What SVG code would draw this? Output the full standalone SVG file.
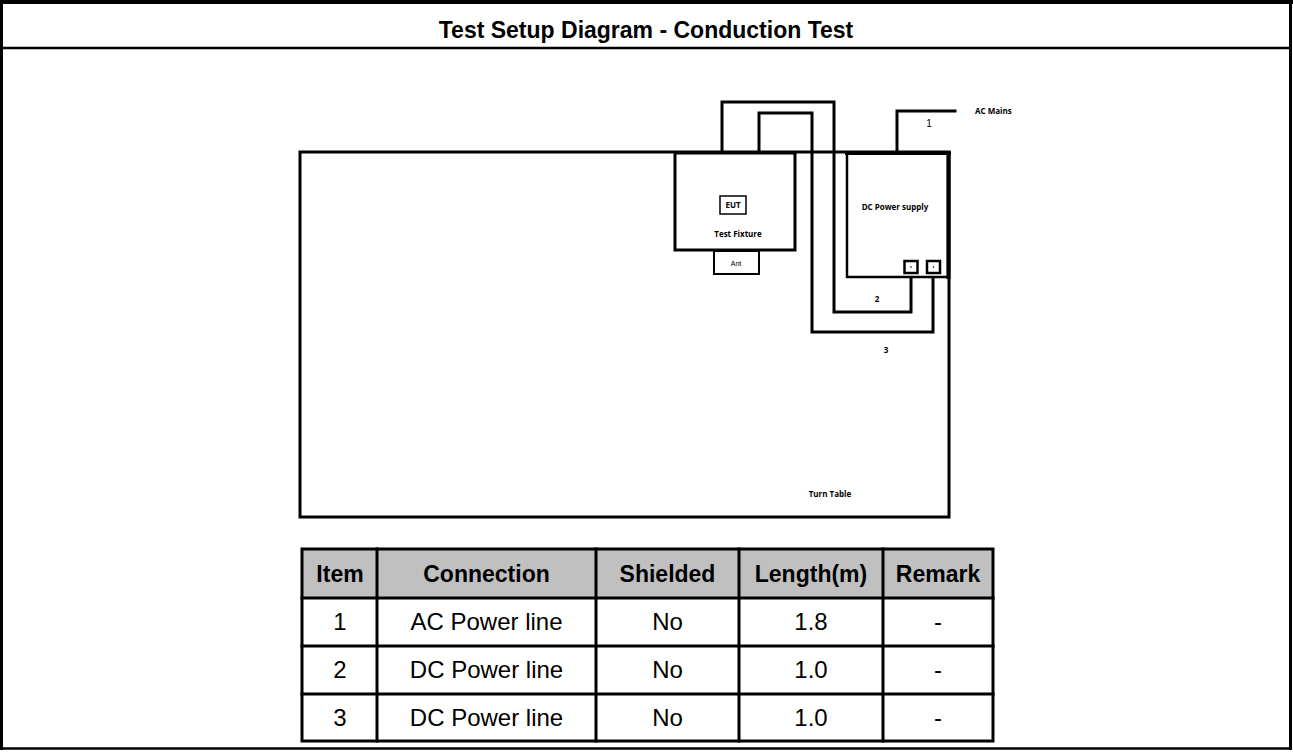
<svg xmlns="http://www.w3.org/2000/svg" width="1293" height="752" viewBox="0 0 1293 752">
<style>
.ln{fill:none;stroke:#000;stroke-linecap:square}
.box{fill:#fff;stroke:#000}
.t{font-family:"Liberation Sans",Arial,sans-serif;text-anchor:middle;fill:#000}
.tb{font-family:"Liberation Sans",Arial,sans-serif;font-size:24px;text-anchor:middle;fill:#000}
.h{font-weight:bold;font-size:23px}
.s{font-family:"Open Sans","Liberation Sans",sans-serif;font-weight:bold;font-size:8px;fill:#000}
</style>
<rect width="1293" height="752" fill="#fff"/>
<g id="frame">
<line class="ln" x1="1" y1="2" x2="1291" y2="2" stroke-width="4"/>
<line class="ln" x1="1.5" y1="2" x2="1.5" y2="748.5" stroke-width="3"/>
<line class="ln" x1="1290.5" y1="2" x2="1290.5" y2="748.5" stroke-width="3"/>
<line class="ln" x1="1.5" y1="748.5" x2="1290.5" y2="748.5" stroke-width="2.5"/>
<line class="ln" x1="1.5" y1="48" x2="1290.5" y2="48" stroke-width="2.5"/>
<text class="tb h" x="646" y="38">Test Setup Diagram - Conduction Test</text>
</g>
<g id="turntable">
<rect class="box" x="300" y="152" width="649" height="365" stroke-width="3"/>
<text class="s" x="830" y="497" text-anchor="middle">Turn Table</text>
</g>
<g id="connectors">
<polyline class="ln" stroke-width="3" points="722,152 722,102 834,102 834,312 911,312 911,273"/>
<polyline class="ln" stroke-width="3" points="759,152 759,113 812,113 812,332 933,332 933,273"/>
<polyline class="ln" stroke-width="3" points="897,152 897,111 955,111"/>
<text class="t" x="929" y="127" font-size="10">1</text>
<text class="s" x="877" y="302" text-anchor="middle">2</text>
<text class="s" x="886" y="353" text-anchor="middle">3</text>
<text class="s" x="975" y="114">AC Mains</text>
</g>
<g id="test-fixture">
<rect class="box" x="675" y="153" width="120" height="97" stroke-width="3"/>
<rect class="box" x="720" y="196" width="26" height="18" stroke-width="1.5"/>
<text class="s" x="733" y="208" font-size="7" text-anchor="middle">EUT</text>
<text class="s" x="738" y="237" font-size="10" text-anchor="middle">Test Fixture</text>
</g>
<g id="ant">
<rect class="box" x="714" y="251" width="45" height="23" stroke-width="2"/>
<text class="t" x="736" y="266" font-size="7" fill="#444">Ant</text>
</g>
<g id="dc-power-supply">
<rect class="box" x="847" y="153" width="101" height="124" stroke-width="2.5"/>
<line class="ln" x1="847" y1="153" x2="949" y2="153" stroke-width="4"/>
<line class="ln" x1="948.5" y1="153" x2="948.5" y2="277" stroke-width="4"/>
<text class="s" x="895" y="210" text-anchor="middle">DC Power supply</text>
<rect class="box" x="904.5" y="261" width="13" height="12" stroke-width="2.5"/>
<rect class="box" x="927" y="261" width="13" height="12" stroke-width="2.5"/>
<circle cx="911" cy="267" r="0.8" fill="#000"/>
<circle cx="933.5" cy="267" r="0.8" fill="#000"/>
</g>
<g id="table">
<rect x="302" y="549" width="691" height="49" fill="#c0c0c0"/>
<g class="ln" stroke-width="3">
<rect x="302" y="549" width="691" height="192"/>
<line x1="302" y1="598" x2="993" y2="598"/>
<line x1="302" y1="646" x2="993" y2="646"/>
<line x1="302" y1="694" x2="993" y2="694"/>
<line x1="377" y1="549" x2="377" y2="741"/>
<line x1="596" y1="549" x2="596" y2="741"/>
<line x1="739" y1="549" x2="739" y2="741"/>
<line x1="883" y1="549" x2="883" y2="741"/>
</g>
<text class="tb h" x="340" y="582">Item</text>
<text class="tb h" x="486.5" y="582">Connection</text>
<text class="tb h" x="667.5" y="582">Shielded</text>
<text class="tb h" x="811" y="582">Length(m)</text>
<text class="tb h" x="938" y="582">Remark</text>
<text class="tb" x="340" y="630">1</text>
<text class="tb" x="486.5" y="630">AC Power line</text>
<text class="tb" x="667.5" y="630">No</text>
<text class="tb" x="811" y="630">1.8</text>
<text class="tb" x="938" y="630">-</text>
<text class="tb" x="340" y="678">2</text>
<text class="tb" x="486.5" y="678">DC Power line</text>
<text class="tb" x="667.5" y="678">No</text>
<text class="tb" x="811" y="678">1.0</text>
<text class="tb" x="938" y="678">-</text>
<text class="tb" x="340" y="726">3</text>
<text class="tb" x="486.5" y="726">DC Power line</text>
<text class="tb" x="667.5" y="726">No</text>
<text class="tb" x="811" y="726">1.0</text>
<text class="tb" x="938" y="726">-</text>
</g>
</svg>
